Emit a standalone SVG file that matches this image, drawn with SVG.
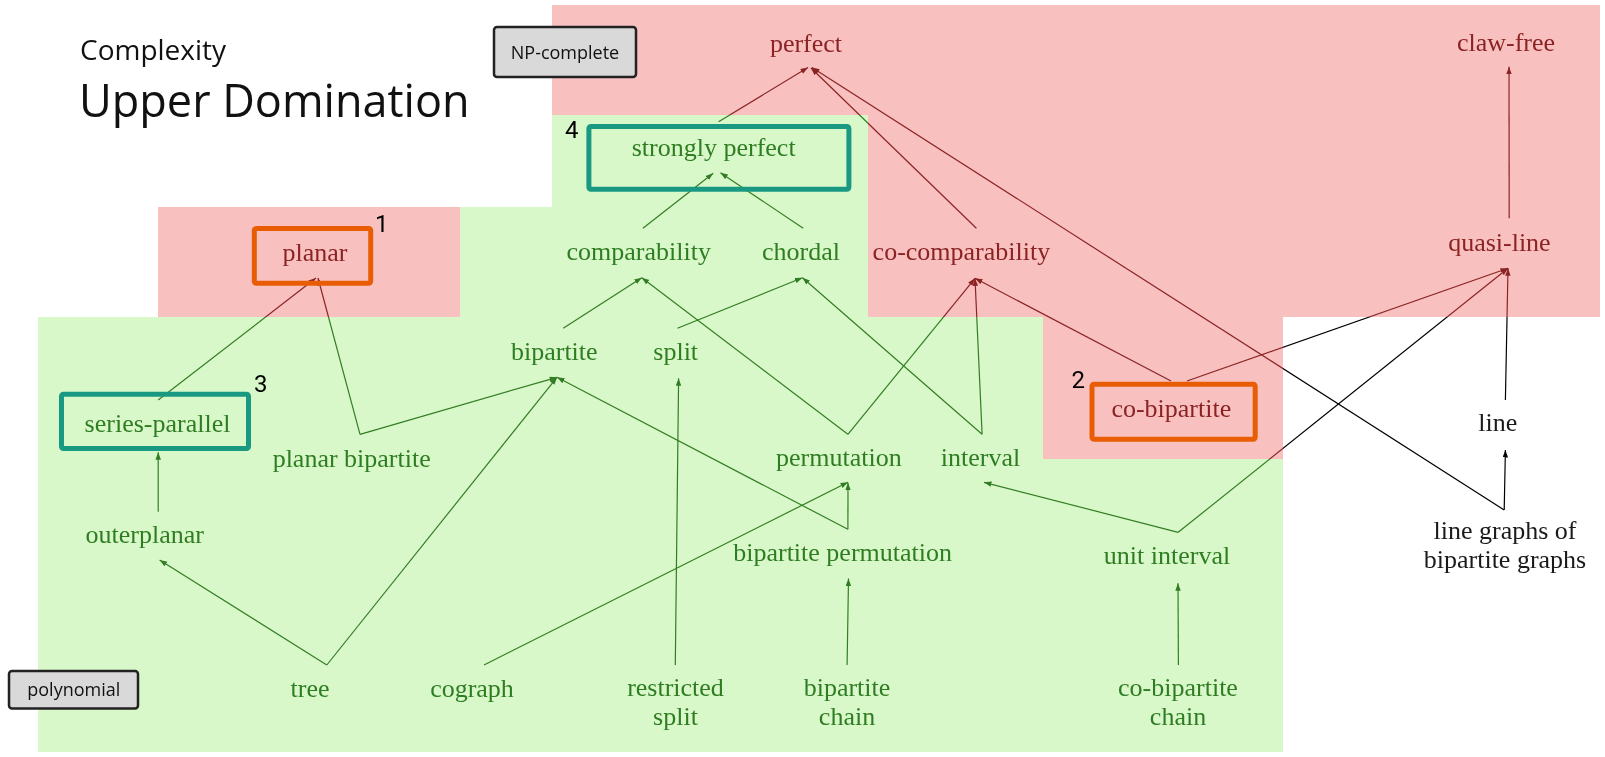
<svg xmlns="http://www.w3.org/2000/svg" xmlns:xlink="http://www.w3.org/1999/xlink" width="1605" height="757" viewBox="0 0 1605 757">
  <defs>
    <style>
      .lbl { font-family: "Liberation Serif", "Times New Roman", serif; font-size: 26px; text-anchor: middle; }
      .np { fill: #8b2323; }
      .poly { fill: #2f7d22; }
      .plain { fill: #1a1a1a; }
      .edge { fill: none; stroke: #000; stroke-width: 1.2; marker-end: url(#ah); }
      .hard { fill: none; stroke: #e85d04; stroke-width: 5; }
      .mark { fill: none; stroke: #199882; stroke-width: 5; }
      .num { font-family: Roboto, "Liberation Sans", sans-serif; font-size: 24px; fill: #000; }
      .key rect { fill: #d9d9d9; stroke: #222; stroke-width: 2.5; }
      .key text { font-family: "Open Sans", "Noto Sans", sans-serif; font-size: 18px; fill: #111; text-anchor: middle; }
      .head { font-family: "Open Sans", "Noto Sans", sans-serif; fill: #111; }
    </style>
    <marker id="ah" markerUnits="userSpaceOnUse" markerWidth="8" markerHeight="6" refX="7.5" refY="2.75" orient="auto">
      <path d="M0,0 L7.5,2.75 L0,5.5 Z" fill="#000"/>
    </marker>
    <!-- complexity zones -->
    <path id="zone-np" d="M552,5 H1600 V317 H1283 V459 H1043 V317 H868 V115 H552 Z"/>
    <path id="zone-np-planar" d="M158,207 H460 V317 H158 Z"/>
    <path id="zone-poly" d="M552,115 H868 V317 H1043 V459 H1283 V752 H38 V317 H460 V207 H552 Z"/>
  </defs>

  <rect width="1605" height="757" fill="#fff"/>

  <!-- zone backgrounds (pre-lightened so the tint layer lands on the final shade) -->
  <g id="zones">
    <use xlink:href="#zone-np" fill="#f2b6b6"/>
    <use xlink:href="#zone-np-planar" fill="#f2b6b6"/>
    <use xlink:href="#zone-poly" fill="#d0f1c0"/>
  </g>

  <!-- inclusions: lower class points to the class containing it -->
  <g id="connectors">
    <line class="edge" x1="718.6" y1="121.7" x2="808" y2="67.5"/>
    <line class="edge" x1="976.4" y1="228.3" x2="811" y2="68"/>
    <line class="edge" x1="1504.2" y1="510" x2="812" y2="67.5"/>
    <line class="edge" x1="1509.2" y1="218.3" x2="1509" y2="66.7"/>
    <line class="edge" x1="642.9" y1="228.3" x2="713.2" y2="173.3"/>
    <line class="edge" x1="803.2" y1="228.3" x2="720.4" y2="172.7"/>
    <line class="edge" x1="158.2" y1="400" x2="316" y2="278"/>
    <line class="edge" x1="360" y1="434.3" x2="318" y2="278"/>
    <line class="edge" x1="360" y1="434.3" x2="557" y2="377.3"/>
    <line class="edge" x1="158.2" y1="511.7" x2="158.2" y2="452.3"/>
    <line class="edge" x1="326.8" y1="665" x2="159.6" y2="560"/>
    <line class="edge" x1="326.8" y1="665" x2="557" y2="377.3"/>
    <line class="edge" x1="563.2" y1="328.3" x2="641.8" y2="277.7"/>
    <line class="edge" x1="677.5" y1="328.3" x2="802.5" y2="277.7"/>
    <line class="edge" x1="847.9" y1="434.3" x2="641.8" y2="277.7"/>
    <line class="edge" x1="847.9" y1="434.3" x2="975" y2="278.3"/>
    <line class="edge" x1="982.1" y1="434.3" x2="802.5" y2="277.7"/>
    <line class="edge" x1="982.1" y1="434.3" x2="975" y2="278.3"/>
    <line class="edge" x1="1171" y1="381" x2="975" y2="278.3"/>
    <line class="edge" x1="1187" y1="381" x2="1508" y2="268.3"/>
    <line class="edge" x1="1178.2" y1="532.3" x2="984" y2="482.3"/>
    <line class="edge" x1="1178.2" y1="532.3" x2="1508" y2="268.3"/>
    <line class="edge" x1="1505.4" y1="400" x2="1508" y2="268.3"/>
    <line class="edge" x1="1504.2" y1="510" x2="1505.4" y2="450"/>
    <line class="edge" x1="847.9" y1="529.3" x2="557" y2="377.3"/>
    <line class="edge" x1="847.9" y1="529.3" x2="848" y2="482.7"/>
    <line class="edge" x1="484" y1="665" x2="848" y2="482.2"/>
    <line class="edge" x1="675.3" y1="665" x2="678.6" y2="378.3"/>
    <line class="edge" x1="847.1" y1="665" x2="848.5" y2="578.5"/>
    <line class="edge" x1="1178.4" y1="665" x2="1178" y2="583.3"/>
  </g>

  <!-- tint layer: darkens the black strokes to each zone's ink colour -->
  <g id="zone-tint" style="mix-blend-mode:screen">
    <use xlink:href="#zone-np" fill="#8b2323"/>
    <use xlink:href="#zone-np-planar" fill="#8b2323"/>
    <use xlink:href="#zone-poly" fill="#327d23"/>
  </g>

  <!-- graph classes -->
  <g id="n-perfect"><text class="lbl np" x="806" y="51.7">perfect</text></g>
  <g id="n-claw-free"><text class="lbl np" x="1506" y="50.7">claw-free</text></g>
  <g id="n-strongly-perfect">
    <rect class="mark" x="588.9" y="126.5" width="260" height="62.7" rx="2"/>
    <text class="lbl poly" x="713.7" y="155.7">strongly perfect</text>
  </g>
  <g id="n-planar">
    <rect class="hard" x="254.3" y="228.5" width="116.4" height="54.7" rx="2"/>
    <text class="lbl np" x="315" y="261">planar</text>
  </g>
  <g id="n-comparability"><text class="lbl poly" x="638.7" y="260">comparability</text></g>
  <g id="n-chordal"><text class="lbl poly" x="801" y="260">chordal</text></g>
  <g id="n-co-comparability"><text class="lbl np" x="961.4" y="260">co-comparability</text></g>
  <g id="n-quasi-line"><text class="lbl np" x="1499.4" y="250.7">quasi-line</text></g>
  <g id="n-bipartite"><text class="lbl poly" x="554.3" y="360">bipartite</text></g>
  <g id="n-split"><text class="lbl poly" x="675.7" y="360">split</text></g>
  <g id="n-series-parallel">
    <rect class="mark" x="61.5" y="394.2" width="187" height="54.3" rx="2"/>
    <text class="lbl poly" x="157.5" y="431.7">series-parallel</text>
  </g>
  <g id="n-planar-bipartite"><text class="lbl poly" x="351.7" y="466.7">planar bipartite</text></g>
  <g id="n-co-bipartite">
    <rect class="hard" x="1092" y="384.2" width="163.2" height="55" rx="2"/>
    <text class="lbl np" x="1171.3" y="417.3">co-bipartite</text>
  </g>
  <g id="n-line"><text class="lbl plain" x="1497.7" y="431">line</text></g>
  <g id="n-permutation"><text class="lbl poly" x="838.9" y="465.7">permutation</text></g>
  <g id="n-interval"><text class="lbl poly" x="980.5" y="465.7">interval</text></g>
  <g id="n-outerplanar"><text class="lbl poly" x="144.7" y="543.3">outerplanar</text></g>
  <g id="n-line-graphs-bipartite">
    <text class="lbl plain" x="1505" y="539">line graphs of<tspan x="1505" dy="29">bipartite graphs</tspan></text>
  </g>
  <g id="n-bipartite-permutation"><text class="lbl poly" x="842.6" y="560.7">bipartite permutation</text></g>
  <g id="n-unit-interval"><text class="lbl poly" x="1167" y="564.3">unit interval</text></g>
  <g id="n-tree"><text class="lbl poly" x="310" y="697">tree</text></g>
  <g id="n-cograph"><text class="lbl poly" x="472" y="697">cograph</text></g>
  <g id="n-restricted-split">
    <text class="lbl poly" x="675.5" y="696">restricted<tspan x="675.5" dy="29">split</tspan></text>
  </g>
  <g id="n-bipartite-chain">
    <text class="lbl poly" x="847" y="696">bipartite<tspan x="847" dy="29">chain</tspan></text>
  </g>
  <g id="n-co-bipartite-chain">
    <text class="lbl poly" x="1178" y="696">co-bipartite<tspan x="1178" dy="29">chain</tspan></text>
  </g>

  <!-- reference numbers on highlighted classes -->
  <g id="numbers">
    <text class="num" x="375" y="232">1</text>
    <text class="num" x="1071.4" y="388">2</text>
    <text class="num" x="254" y="391.7">3</text>
    <text class="num" x="565" y="138">4</text>
  </g>

  <!-- zone keys -->
  <g id="key-np" class="key">
    <rect x="494" y="27" width="142" height="50" rx="3"/>
    <text x="565" y="59">NP-complete</text>
  </g>
  <g id="key-poly" class="key">
    <rect x="9" y="671" width="129" height="37.5" rx="3"/>
    <text x="73.8" y="696">polynomial</text>
  </g>

  <g id="title" class="head">
    <text x="80" y="60" font-size="28">Complexity<tspan x="79" y="117" font-size="45">Upper Domination</tspan></text>
  </g>
</svg>
